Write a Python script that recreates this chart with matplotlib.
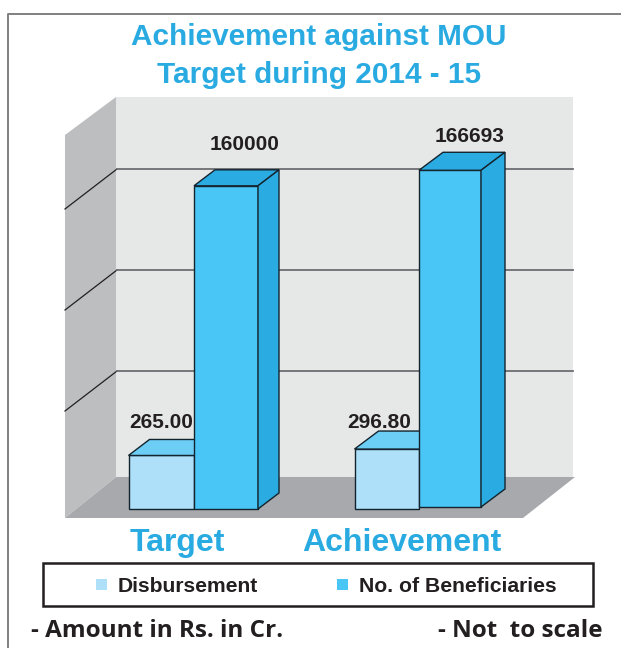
import matplotlib
matplotlib.use("Agg")
import matplotlib.pyplot as plt
from matplotlib.patches import Polygon, Rectangle

# ---- data ----
categories = ["Target", "Achievement"]
disbursement = [265.00, 296.80]
beneficiaries = [160000, 166693]
disb_labels = ["265.00", "296.80"]
ben_labels = ["160000", "166693"]
ben_ticks = [50000, 100000, 150000]
legend_names = ["Disbursement", "No. of Beneficiaries"]

BLUE, LIGHT, TOP_L, SIDE = "#49c6f5", "#aee1f9", "#6ccdf5", "#2aabe2"
WALL, SWALL, FLOOR = "#e6e8e7", "#bcbec0", "#a7a9ac"
TITLE = "#29abe2"
INK = "#231f20"
EDGE = "#14242e"

W, H = 621, 648
BASE_PX = 509          # pixel row of value zero
PX_PER_TICK = 101      # one gridline step in pixels
BEN_UNIT = 50000 / PX_PER_TICK
DISB_UNIT = 500 / PX_PER_TICK

plt.rcParams["font.family"] = ["Liberation Sans", "DejaVu Sans"]
fig = plt.figure(figsize=(W / 100, H / 100), dpi=100)


def layer(z, unit=None):
    ax = fig.add_axes([0, 0, 1, 1], zorder=z)
    ax.set_axis_off()
    ax.patch.set_alpha(0)
    ax.set_xlim(0, W)
    if unit is None:
        ax.set_ylim(H, 0)
    else:
        ax.set_ylim((BASE_PX - H) * unit, BASE_PX * unit)
    return ax


deco = layer(1)          # pixel coordinates: walls, frame, text
ax_d = layer(3, DISB_UNIT)
ax_b = layer(4, BEN_UNIT)
txt = layer(5)

# ---- frame and 3D room ----
deco.plot([8, 8, W], [H, 14, 14], color="#808080", lw=1.4)
deco.add_patch(Polygon([(116, 97), (573, 97), (573, 477), (116, 477)], fc=WALL, ec="none"))
deco.add_patch(Polygon([(65, 135), (116, 97), (116, 477), (65, 518)], fc=SWALL, ec="none"))
deco.add_patch(Polygon([(65, 518), (116, 477), (575, 477), (523, 518)], fc=FLOOR, ec="none"))

# gridlines run along the back wall, then down the side wall
for k, t in enumerate(ben_ticks):
    back = BASE_PX - t / BEN_UNIT - 37
    left = back + 40
    deco.plot([65, 117], [left, back], color="#231f20", lw=0.9)
    deco.plot([117, 573], [back, back], color="#6d6e71", lw=1.3)


def bar3d(ax, unit, x, w, val, base, dx, dy, front, top, side=None):
    b = base * unit
    ax.bar(x, val, width=w, bottom=b, align="edge", color=front, edgecolor=EDGE, linewidth=1.0)
    y1, d = b + val, dy * unit
    ax.add_patch(Polygon([(x, y1), (x + dx, y1 + d), (x + w + dx, y1 + d), (x + w, y1)],
                         fc=top, ec=EDGE, lw=1.0))
    if side:
        ax.add_patch(Polygon([(x + w, b), (x + w + dx, b + d), (x + w + dx, y1 + d), (x + w, y1)],
                             fc=side, ec=EDGE, lw=1.0))


# ---- bars ----
disb_x = [128.5, 354.5]
ben_x = [194, 419]
ben_w = [64, 62]
depth = [(21, 16), (24, 18)]
ben_base = [0, 2]
for i in range(len(categories)):
    dx, dy = depth[i]
    bar3d(ax_d, DISB_UNIT, disb_x[i], ben_x[i] - disb_x[i], disbursement[i], 0, dx, dy, LIGHT, TOP_L)
    bar3d(ax_b, BEN_UNIT, ben_x[i], ben_w[i], beneficiaries[i], ben_base[i], dx, dy, BLUE, SIDE, SIDE)

# ---- value labels ----
for s, x, y in zip(disb_labels, [161.5, 379.5], [422, 422]):
    txt.text(x, y, s, ha="center", va="center", fontsize=15, fontweight="bold", color=INK)
for s, x, y in zip(ben_labels, [244.5, 470], [144, 136]):
    txt.text(x, y, s, ha="center", va="center", fontsize=15, fontweight="bold", color=INK)

# ---- title and category names ----
txt.text(319, 37, "Achievement against MOU", ha="center", va="center",
         fontsize=21.4, fontweight="bold", color=TITLE)
txt.text(319, 75, "Target during 2014 - 15", ha="center", va="center",
         fontsize=21.4, fontweight="bold", color=TITLE)
for s, x in zip(categories, [177, 402]):
    txt.text(x, 543, s, ha="center", va="center", fontsize=23, fontweight="bold", color=TITLE)

# ---- legend box ----
txt.add_patch(Rectangle((43, 563), 550, 43, fc="white", ec=INK, lw=1.8))
for name, col, sx, tx in zip(legend_names, [LIGHT, BLUE], [96, 337], [118, 359]):
    txt.add_patch(Rectangle((sx, 579), 11, 11, fc=col, ec="none"))
    txt.text(tx, 587, name, ha="left", va="center", fontsize=15.2, fontweight="bold", color=INK)

# ---- footnotes ----
txt.text(31, 631, "- Amount in Rs. in Cr.", ha="left", va="center", family="Open Sans",
         fontsize=17.5, fontweight="bold", color=INK)
txt.text(438, 631, "- Not  to scale", ha="left", va="center", family="Open Sans",
         fontsize=17.5, fontweight="bold", color=INK)

fig.savefig("out.png", dpi=100)
plt.close(fig)
